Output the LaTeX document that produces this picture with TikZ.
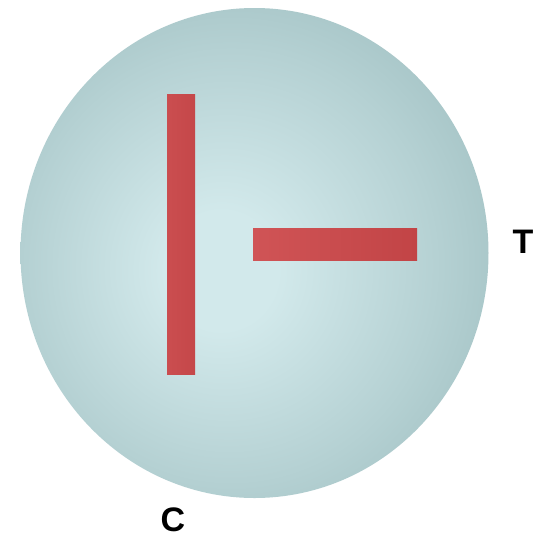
\documentclass[tikz,border=0pt]{standalone}
\usepackage{fontspec}
\setmainfont{Liberation Sans}
\definecolor{ballin}{HTML}{D2E9EB}
\definecolor{ballout}{HTML}{9DBDBF}
\definecolor{barlight}{HTML}{D05456}
\definecolor{bardark}{HTML}{C24446}
\pgfdeclareradialshading{ballshade}{\pgfpoint{-4bp}{-2bp}}{color(0bp)=(ballin); color(6bp)=(ballin); color(22bp)=(ballin!45!ballout); color(34bp)=(ballout); color(60bp)=(ballout)}
\tikzset{
  bar/.style={draw=none, inner sep=0pt, outer sep=0pt, left color=barlight, right color=bardark},
  lbl/.style={font=\bfseries\fontsize{34}{34}\selectfont, inner sep=0pt, anchor=base}
}
\begin{document}
\begin{tikzpicture}[x=1pt,y=-1pt]
\useasboundingbox (0,0) rectangle (539,539);
\fill[white] (0,0) rectangle (539,539);
\coordinate (ball) at (254.5,253);
\shade[shading=ballshade] (ball) ellipse [x radius=234pt, y radius=245pt];
\node[bar, minimum width=28pt, minimum height=280pt, left color=barlight!60!bardark, right color=bardark!80!barlight] (vbar) at (181,234) {};
\node[bar, minimum width=164pt, minimum height=32pt] (hbar) at (335,244) {};
\node[lbl] (T) at (523,253) {T};
\node[lbl] (C) at (173,531) {C};
\end{tikzpicture}
\end{document}
